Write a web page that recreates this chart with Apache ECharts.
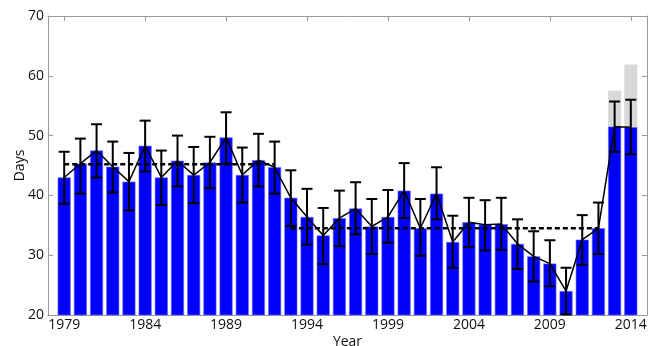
<!DOCTYPE html>
<html>
<head>
<meta charset="utf-8">
<script src="https://cdn.jsdelivr.net/npm/echarts@6/dist/echarts.min.js"></script>
<style>html,body{margin:0;padding:0;background:#fff}#c{width:648px;height:346px}</style>
</head>
<body>
<div id="c"></div>
<script>
var years = [];
for (var y = 1979; y <= 2014; y++) years.push(y);
var days = [43.0,45.3,47.5,44.8,42.3,48.3,43.0,45.8,43.4,45.5,49.7,43.4,45.9,44.7,39.6,36.4,33.3,36.2,37.8,34.8,36.4,40.8,34.5,40.3,32.2,35.5,35.1,35.2,31.9,29.8,28.6,24.0,32.6,34.5,51.5,51.4];
var errHigh = [47.3,49.5,51.9,49.0,47.1,52.5,47.5,50.0,48.1,49.8,53.9,48.0,50.3,49.0,44.2,41.1,37.9,40.8,42.2,39.4,40.9,45.4,39.4,44.7,36.6,39.6,39.2,39.6,36.0,34.0,32.5,27.9,36.7,38.8,55.7,56.0];
var errLow = [38.6,40.3,43.0,40.5,37.5,44.0,38.4,41.5,38.7,41.2,45.3,38.8,41.5,40.3,34.9,31.8,28.5,31.5,33.5,30.2,32.1,36.2,29.9,36.0,27.9,31.4,30.8,30.9,27.7,25.6,24.8,20.1,28.4,30.2,47.3,46.9];
var grayYears = [2013, 2014];
var grayDays = [57.5, 61.9];
var mean1Years = [1979, 1992];
var mean1 = 45.2;
var mean2Years = [1993, 2012];
var mean2 = 34.5;
var xTicks = [1979,1984,1989,1994,1999,2004,2009,2014];

var font = '"Open Sans", "DejaVu Sans", sans-serif';
var chart = echarts.init(document.getElementById('c'));
var axisLineStyle = {color: '#9a9a9a', width: 1};
chart.setOption({
  animation: false,
  grid: {left: 48, right: 1, top: 16, bottom: 31, containLabel: false, outerBoundsMode: 'none'},
  xAxis: [{
    type: 'value', min: 1978, max: 2015,
    name: 'Year', nameLocation: 'middle', nameGap: 20, nameMoveOverlap: false,
    nameTextStyle: {fontFamily: font, fontSize: 14, color: '#111', verticalAlign: 'top'},
    axisLine: {show: true, lineStyle: axisLineStyle, onZero: false},
    axisTick: {show: true, inside: true, length: 5, lineStyle: axisLineStyle, customValues: xTicks},
    axisLabel: {fontFamily: font, fontSize: 14, color: '#111', margin: 3, customValues: xTicks, formatter: function(v){return String(v);}},
    splitLine: {show: false}
  }, {
    type: 'value', min: 1978, max: 2015, position: 'top',
    axisLine: {show: true, lineStyle: axisLineStyle, onZero: false},
    axisTick: {show: true, inside: true, length: 5, lineStyle: axisLineStyle, customValues: xTicks},
    axisLabel: {show: false},
    splitLine: {show: false}
  }],
  yAxis: [{
    type: 'value', min: 20, max: 70, interval: 10,
    name: 'Days', nameLocation: 'middle', nameGap: 21, nameRotate: 90, nameMoveOverlap: false,
    nameTextStyle: {fontFamily: font, fontSize: 14, color: '#111'},
    axisLine: {show: true, lineStyle: axisLineStyle, onZero: false},
    axisTick: {show: true, inside: true, length: 5, lineStyle: axisLineStyle},
    axisLabel: {fontFamily: font, fontSize: 14, color: '#111', margin: 4},
    splitLine: {show: false}
  }, {
    type: 'value', min: 20, max: 70, interval: 10, position: 'right',
    axisLine: {show: true, lineStyle: axisLineStyle, onZero: false},
    axisTick: {show: true, inside: true, length: 5, lineStyle: axisLineStyle},
    axisLabel: {show: false},
    splitLine: {show: false}
  }],
  series: [
    {
      type: 'bar', name: 'gray', barWidth: 13, barGap: '-100%', z: 1,
      itemStyle: {color: '#d8d8d8'},
      data: grayYears.map(function(y, i){ return [y, grayDays[i]]; })
    },
    {
      type: 'bar', name: 'days', barWidth: 13, barGap: '-100%', z: 2,
      itemStyle: {color: '#0000ff', borderColor: '#6a6aff', borderWidth: 0.6},
      data: years.map(function(y, i){ return [y, days[i]]; })
    },
    {
      type: 'line', z: 4, symbol: 'none',
      lineStyle: {color: '#000', width: 2.5, type: [5, 3]},
      data: mean1Years.map(function(y){ return [y, mean1]; })
    },
    {
      type: 'line', z: 4, symbol: 'none',
      lineStyle: {color: '#000', width: 2.5, type: [5, 3]},
      data: mean2Years.map(function(y){ return [y, mean2]; })
    },
    {
      type: 'line', z: 5, symbol: 'none',
      lineStyle: {color: '#000', width: 1.5},
      data: years.map(function(y, i){ return [y, days[i]]; })
    },
    {
      type: 'custom', z: 6,
      data: years.map(function(y, i){ return [y, errLow[i], errHigh[i]]; }),
      renderItem: function(params, api){
        var lo = api.coord([api.value(0), api.value(1)]);
        var hi = api.coord([api.value(0), api.value(2)]);
        var hw = 5.5;
        var st = {stroke: '#000', lineWidth: 2};
        return {type: 'group', children: [
          {type: 'line', shape: {x1: lo[0], y1: lo[1], x2: hi[0], y2: hi[1]}, style: st},
          {type: 'line', shape: {x1: lo[0]-hw, y1: lo[1], x2: lo[0]+hw, y2: lo[1]}, style: st},
          {type: 'line', shape: {x1: hi[0]-hw, y1: hi[1], x2: hi[0]+hw, y2: hi[1]}, style: st}
        ]};
      }
    }
  ]
});
</script>
</body>
</html>
